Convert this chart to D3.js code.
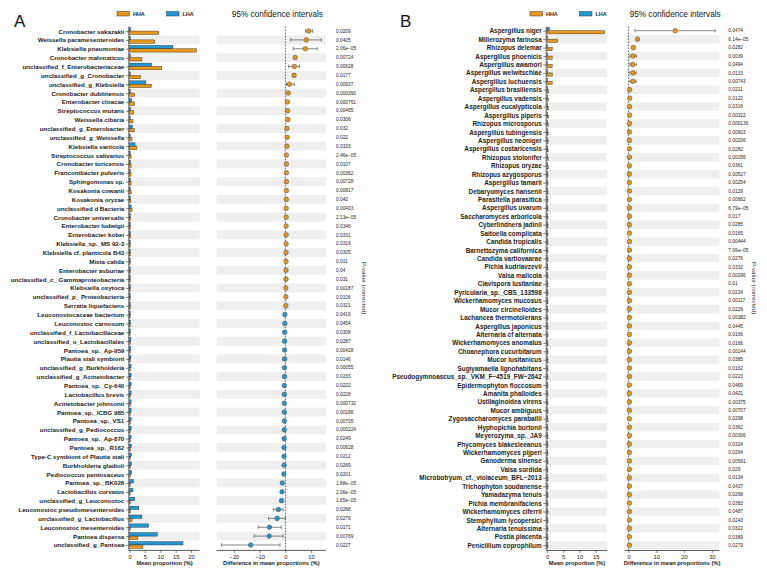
<!DOCTYPE html>
<html><head><meta charset="utf-8">
<script src="https://cdn.jsdelivr.net/npm/d3@7"></script>
<style>body{margin:0;background:#fff}svg{display:block;font-family:"Liberation Sans",Arial,sans-serif}</style>
</head><body><svg id="c" width="767" height="578"></svg>
<script>
// ---------- Panel A data ----------
const taxaA = ["Cronobacter sakazakii","Weissella paramesenteroides","Klebsiella pneumoniae","Cronobacter malonaticus","unclassified_f_Enterobacteriaceae","unclassified_g_Cronobacter","unclassified_g_Klebsiella","Cronobacter dublinensis","Enterobacter cloacae","Streptococcus mutans","Weissella cibaria","unclassified_g_Enterobacter","unclassified_g_Weissella","Klebsiella variicola","Streptococcus salivarius","Cronobacter turicensis","Franconibacter pulveris","Sphingomonas sp.","Kosakonia cowanii","Kosakonia oryzae","unclassified d Bacteria","Cronobacter universalis","Enterobacter ludwigii","Enterobacter kobei","Klebsiella_sp._MS 92-3","Klebsiella cf. planticola B43","Mixta calida","Enterobacter asburiae","unclassified_c_ Gammaproteobacteria","Klebsiella oxytoca","unclassified_p_ Proteobacteria","Serratia liquefaciens","Leuconostocaceae bacterium","Leuconostoc carnosum","unclassified_f_Lactobacillaceae","unclassified_o_Lactobacillales","Pantoea_sp._Ap-959","Plautia stali symbiont","unclassified_g_Burkholderia","unclassified_g_Acinetobacter","Pantoea_sp._Cy-640","Lactobacillus brevis","Acinetobacter johnsonii","Pantoea_sp._ICBG 985","Pantoea_sp._VS1","unclassified_g_Pediococcus","Pantoea_sp._Ap-870","Pantoea_sp._R162","Type-C symbiont of Plautia stali","Burkholderia gladioli","Pediococcus pentosaceus","Pantoea_sp._BK028","Lactobacillus curvatus","unclassified_g_Leuconostoc","Leuconostoc pseudomesenteroides","unclassified_g_Lactobacillus","Leuconostoc mesenteroides","Pantoea dispersa","unclassified_g_Pantoea"];
const hhaA = [9.5,8.2,21.8,4.0,10.5,3.6,7.1,1.6,1.6,1.3,1.1,1.5,0.8,2.4,0.5,0.5,0.5,0.5,0.5,0.4,0.8,0.3,0.3,0.3,0.3,0.25,0.2,0.2,0.2,0.2,0.2,0.2,0.05,0.05,0.05,0.05,0.05,0.05,0.05,0.05,0.05,0.05,0.05,0.05,0.05,0.05,0.05,0.05,0.05,0.05,0.05,0.1,0.1,0.2,0.3,0.8,0.1,2.7,4.3];
const lhaA = [0.3,0.1,14.1,0.1,7.2,0.1,5.3,0.2,0.7,0.3,0.1,0.9,0.1,1.8,0.1,0.1,0.1,0.05,0.05,0.05,0.5,0.05,0.05,0.05,0.05,0.05,0.05,0.05,0.05,0.05,0.05,0.05,0.2,0.3,0.3,0.4,0.4,0.4,0.5,0.5,0.5,0.5,0.5,0.5,0.5,0.5,0.5,0.6,0.6,0.6,0.7,1.3,1.1,1.7,3.0,4.0,6.2,9.0,17.4];
const diffA = [9.1,8.1,7.8,3.8,3.5,3.4,1.6,1.1,0.8,0.9,1.0,0.6,0.7,0.6,0.4,0.4,0.4,0.4,0.4,0.35,0.3,0.3,0.3,0.3,0.3,0.25,0.25,0.25,0.25,0.2,0.2,0.2,-0.2,-0.2,-0.25,-0.3,-0.3,-0.3,-0.35,-0.35,-0.4,-0.4,-0.4,-0.4,-0.4,-0.4,-0.45,-0.5,-0.5,-0.5,-0.6,-1.2,-1.3,-1.5,-2.7,-3.2,-6.2,-6.3,-13.5];
const loA = [7.8,2.1,3.1,3.3,1.3,2.9,0.4,0.8,0.5,0.6,0.7,0.3,0.4,0.3,0.2,0.2,0.2,0.2,0.2,0.15,0.1,0.1,0.1,0.1,0.1,0.1,0.1,0.1,0.1,0.05,0.05,0.05,-0.35,-0.35,-0.4,-0.45,-0.45,-0.45,-0.5,-0.5,-0.55,-0.55,-0.55,-0.55,-0.55,-0.55,-0.6,-0.65,-0.65,-0.65,-0.8,-1.5,-1.6,-1.9,-4.7,-6.6,-10.6,-12.1,-24.8];
const hiA = [10.6,14.0,12.4,4.3,5.5,3.9,3.5,1.5,1.1,1.2,1.3,0.9,1.0,0.9,0.6,0.6,0.6,0.6,0.6,0.55,0.5,0.5,0.5,0.5,0.5,0.4,0.4,0.4,0.4,0.35,0.35,0.35,-0.05,-0.05,-0.1,-0.15,-0.15,-0.15,-0.2,-0.2,-0.25,-0.25,-0.25,-0.25,-0.25,-0.25,-0.3,-0.35,-0.35,-0.35,-0.4,-0.9,-1.0,-1.1,-0.9,0.0,-1.6,-0.9,-2.1];
const pA = ["0.0209","0.0405","2.06e−05","0.00724","0.00628","0.0177","0.00937","0.000390","0.000761","0.00465","0.0306","0.032","0.022","0.0333","2.46e−05","0.0107","0.00362","0.00728","0.00817","0.042","0.00403","2.13e−05","0.0346","0.0331","0.0319","0.0305","0.011","0.04","0.031","0.00187","0.0106","0.0321","0.0419","0.0454","0.0308","0.0287","0.00428","0.0146","0.00055","0.0233","0.0222","0.0228","0.000732","0.00186","0.00705","0.000224","0.0249","0.00628","0.0212","0.0269","0.0201","1.88e−05","2.06e−05","1.65e−05","0.0268","0.0276","0.0171","0.00769","0.0227"];
const barTicksA = [0,5,10,15,20];
const diffTicksA = [-20,-10,0,10];

// ---------- Panel B data ----------
const taxaB = ["Aspergillus niger","Millerozyma farinosa","Rhizopus delemar","Aspergillus phoenicis","Aspergillus awamori","Aspergillus welwitschiae","Aspergillus luchuensis","Aspergillus brasiliensis","Aspergillus vadensis","Aspergillus eucalypticola","Aspergillus piperis","Rhizopus microsporus","Aspergillus tubingensis","Aspergillus neoniger","Aspergillus costaricensis","Rhizopus stolonifer","Rhizopus oryzae","Rhizopus azygosporus","Aspergillus tamarii","Debaryomyces hansenii","Parasitella parasitica","Aspergillus uvarum","Saccharomyces arboricola","Cyberlindnera jadinii","Saitoella complicata","Candida tropicalis","Barnettozyma californica","Candida vartiovaarae","Pichia kudriavzevii","Valsa malicola","Clavispora lusitaniae","Pyricularia_sp._CBS_133598","Wickerhamomyces mucosus","Mucor circinelloides","Lachancea thermotolerans","Aspergillus japonicus","Alternaria cf alternata","Wickerhamomyces anomalus","Choanephora cucurbitarum","Mucor lusitanicus","Sugiyamaella lignohabitans","Pseudogymnoascus_sp._VKM_F−4519_FW−2642","Epidermophyton floccosum","Amanita phalloides","Ustilaginoidea virens","Mucor ambiguus","Zygosaccharomyces parabailii","Hyphopichia burtonii","Meyerozyma_sp._JA9","Phycomyces blakesleeanus","Wickerhamomyces pijperi","Ganoderma sinense","Valsa sordida","Microbotryum_cf._violaceum_BFL−2013","Trichophyton soudanense","Yamadazyma tenuis","Pichia membranifaciens","Wickerhamomyces ciferrii","Stemphylium lycopersici","Alternaria tenuissima","Postia placenta","Penicillium coprophilum"];
const hhaB = [17.75,3.3,1.6,1.6,1.6,1.6,1.6,0.4,0.4,0.4,0.4,0.35,0.35,0.35,0.35,0.35,0.35,0.3,0.3,0.3,0.3,0.3,0.3,0.3,0.3,0.3,0.3,0.3,0.3,0.3,0.3,0.3,0.3,0.3,0.3,0.3,0.3,0.3,0.3,0.3,0.3,0.3,0.3,0.3,0.3,0.3,0.3,0.3,0.3,0.3,0.3,0.3,0.3,0.3,0.3,0.3,0.3,0.3,0.3,0.3,0.3,0.3];
const lhaB = [0.7,0.05,0.05,0.05,0.05,0.05,0.05,0.02,0.02,0.02,0.02,0.02,0.02,0.02,0.02,0.02,0.02,0.02,0.02,0.02,0.02,0.02,0.02,0.02,0.02,0.02,0.02,0.02,0.02,0.02,0.02,0.02,0.02,0.02,0.02,0.02,0.02,0.02,0.02,0.02,0.02,0.02,0.02,0.02,0.02,0.02,0.02,0.02,0.02,0.02,0.02,0.02,0.02,0.02,0.02,0.02,0.02,0.02,0.02,0.02,0.02,0.02];
const diffB = [16.8,3.2,1.7,1.6,1.5,1.6,1.5,0.4,0.4,0.35,0.35,0.35,0.3,0.3,0.3,0.3,0.3,0.3,0.3,0.3,0.3,0.3,0.3,0.3,0.3,0.3,0.3,0.3,0.3,0.3,0.3,0.3,0.3,0.3,0.3,0.3,0.3,0.3,0.3,0.3,0.3,0.3,0.3,0.3,0.3,0.3,0.3,0.3,0.3,0.3,0.3,0.3,0.3,0.3,0.3,0.3,0.3,0.3,0.3,0.3,0.3,0.3];
const loB = [2.3,2.8,1.3,0.5,0.5,0.5,0.5,0.2,0.2,0.2,0.2,0.2,0.15,0.15,0.15,0.15,0.15,0.15,0.15,0.15,0.15,0.15,0.15,0.15,0.15,0.15,0.15,0.15,0.15,0.15,0.15,0.15,0.15,0.15,0.15,0.15,0.15,0.15,0.15,0.15,0.15,0.15,0.15,0.15,0.15,0.15,0.15,0.15,0.15,0.15,0.15,0.15,0.15,0.15,0.15,0.15,0.15,0.15,0.15,0.15,0.15,0.15];
const hiB = [31.2,3.6,2.1,2.8,2.8,2.7,2.7,0.6,0.6,0.55,0.55,0.5,0.45,0.45,0.45,0.45,0.45,0.45,0.45,0.45,0.45,0.45,0.45,0.45,0.45,0.45,0.45,0.45,0.45,0.45,0.45,0.45,0.45,0.45,0.45,0.45,0.45,0.45,0.45,0.45,0.45,0.45,0.45,0.45,0.45,0.45,0.45,0.45,0.45,0.45,0.45,0.45,0.45,0.45,0.45,0.45,0.45,0.45,0.45,0.45,0.45,0.45];
const pB = ["0.0474","6.14e−05","0.0282","0.0039","0.0494","0.0133","0.00743","0.0211","0.0122","0.0316","0.00322","0.000136","0.00603","0.00206","0.0282","0.00156","0.0361","0.00527","0.00254","0.0129","0.00662","6.79e−05","0.017","0.0285","0.0165","0.00444","7.06e−05","0.0276","0.0332","0.00296","0.01","0.0224","0.00117","0.0229","0.00382","0.0445","0.0166","0.0166","0.00144","0.0385","0.0162","0.0223","0.0469","0.0421","0.00375","0.00707","0.0298","0.0362","0.00306","0.0324","0.0264","0.00591","0.029","0.0134","0.0437","0.0268","0.0383","0.0487","0.0243","0.0322","0.0389","0.0279"];
const barTicksB = [0,5,10,15];
const diffTicksB = [0,10,20,30];

const groups = ["HHA","LHA"];
const colors = {HHA:"#E7981A", LHA:"#2196D3"};

const svg = d3.select("#c");

function panel(cfg){
  const g = svg.append("g");
  const n = cfg.taxa.length;
  const y = d3.scaleBand().domain(d3.range(n)).range([cfg.yTop, cfg.yBot]).paddingInner(0).paddingOuter(0);
  const bw = y.bandwidth();
  const xb = d3.scaleLinear().domain(cfg.barDomain).range(cfg.barRange);
  const xd = d3.scaleLinear().domain(cfg.diffDomain).range(cfg.diffRange);
  const axisY = cfg.yBot + 1;

  g.append("text").attr("x", cfg.letterX).attr("y", 27).attr("font-size", 17).attr("fill","#111").text(cfg.letter);
  groups.forEach((k,i)=>{
    g.append("rect").attr("x", cfg.legX + i*49.5).attr("y", 11.5).attr("width", 12.5).attr("height", 4.5)
      .attr("fill", colors[k]).attr("stroke","#333").attr("stroke-width",0.5);
    g.append("text").attr("x", cfg.legX + i*49.5 + 16).attr("y", 15.8).attr("font-size", 5.4).attr("font-weight","bold").attr("fill","#222").text(k);
  });
  g.append("text").attr("x", (cfg.diffRange[0]+cfg.diffRange[1])/2 + cfg.titleShift).attr("y", 17).attr("text-anchor","middle")
    .attr("font-size", 8.2).attr("fill","#111").text("95% confidence intervals");

  const stripeIdx = d3.range(n).filter(i=>i%2===1);
  g.selectAll(".s1").data(stripeIdx).join("rect").attr("x", xb.range()[0]).attr("width", xb.range()[1]-xb.range()[0])
    .attr("y", i=>y(i)).attr("height", bw).attr("fill","#efefef");
  g.selectAll(".s2").data(stripeIdx).join("rect").attr("x", xd.range()[0]).attr("width", xd.range()[1]-xd.range()[0])
    .attr("y", i=>y(i)).attr("height", bw).attr("fill","#efefef");

  const bh = bw*0.38;
  const data = d3.range(n).map(i=>({i, HHA:cfg.hha[i], LHA:cfg.lha[i]}));
  g.selectAll(".bl").data(data).join("rect").attr("x", xb(0)).attr("y", d=>y(d.i)+bw/2-bh)
    .attr("width", d=>Math.max(0.6, xb(d.LHA)-xb(0))).attr("height", bh).attr("fill", colors.LHA).attr("stroke","#222").attr("stroke-width",0.4);
  g.selectAll(".bh").data(data).join("rect").attr("x", xb(0)).attr("y", d=>y(d.i)+bw/2)
    .attr("width", d=>Math.max(0.6, xb(d.HHA)-xb(0))).attr("height", bh).attr("fill", colors.HHA).attr("stroke","#222").attr("stroke-width",0.4);

  const ya = d3.axisLeft(d3.scalePoint().domain(cfg.taxa).range([y(0)+bw/2, y(n-1)+bw/2])).tickSize(3).tickPadding(1.5);
  const gy = g.append("g").attr("transform",`translate(${xb(0)-0.8},0)`).call(ya);
  gy.select(".domain").attr("d", `M-0,${cfg.yTop}V${axisY}`).attr("stroke","#333").attr("stroke-width",0.8);
  gy.selectAll(".tick line").attr("stroke","#333").attr("stroke-width",0.6);
  gy.selectAll("text").attr("font-size", cfg.labelSize).attr("font-weight","bold").attr("fill","#222").attr("font-family",'"Liberation Sans",Arial,sans-serif');

  const xa = d3.axisBottom(xb).tickValues(cfg.barTicks).tickSize(2.5).tickPadding(1.5);
  const gx = g.append("g").attr("transform",`translate(0,${axisY})`).call(xa);
  gx.select(".domain").attr("d", `M${xb.range()[0]-0.8},0H${xb.range()[1]}`).attr("stroke","#333").attr("stroke-width",0.8);
  gx.selectAll(".tick line").attr("stroke","#333").attr("stroke-width",0.6);
  gx.selectAll("text").attr("font-size",5.8).attr("fill","#222").attr("font-family",'"Liberation Sans",Arial,sans-serif');

  const xda = d3.axisBottom(xd).tickValues(cfg.diffTicks).tickSize(2.5).tickPadding(1.5).tickFormat(d=>d<0?"−"+Math.abs(d):d);
  const gd = g.append("g").attr("transform",`translate(0,${axisY})`).call(xda);
  gd.select(".domain").attr("d", `M${xd.range()[0]},0H${xd.range()[1]}`).attr("stroke","#333").attr("stroke-width",0.8);
  gd.selectAll(".tick line").attr("stroke","#333").attr("stroke-width",0.6);
  gd.selectAll("text").attr("font-size",5.8).attr("fill","#222").attr("font-family",'"Liberation Sans",Arial,sans-serif');

  g.append("text").attr("x",(xb.range()[0]+xb.range()[1])/2).attr("y", axisY+14.5).attr("text-anchor","middle")
    .attr("font-size",5.8).attr("font-weight","bold").attr("fill","#222").text("Mean proportion (%)");
  g.append("text").attr("x",(xd.range()[0]+xd.range()[1])/2).attr("y", axisY+14.5).attr("text-anchor","middle")
    .attr("font-size",5.8).attr("font-weight","bold").attr("fill","#222").text("Difference in mean proportions (%)");

  g.append("line").attr("x1", xd(0)).attr("x2", xd(0)).attr("y1", cfg.yTop).attr("y2", axisY)
    .attr("stroke","#333").attr("stroke-width",0.8).attr("stroke-dasharray","1.6,1.4");

  const ci = d3.range(n).map(i=>({i, d:cfg.diff[i], lo:cfg.lo[i], hi:cfg.hi[i]}));
  const cg = g.append("g").attr("stroke","#555").attr("stroke-width",0.7);
  cg.selectAll(".ci").data(ci).join("line").attr("x1",d=>xd(d.lo)).attr("x2",d=>xd(d.hi)).attr("y1",d=>y(d.i)+bw/2).attr("y2",d=>y(d.i)+bw/2);
  cg.selectAll(".c1").data(ci).join("line").attr("x1",d=>xd(d.lo)).attr("x2",d=>xd(d.lo)).attr("y1",d=>y(d.i)+bw/2-1.8).attr("y2",d=>y(d.i)+bw/2+1.8);
  cg.selectAll(".c2").data(ci).join("line").attr("x1",d=>xd(d.hi)).attr("x2",d=>xd(d.hi)).attr("y1",d=>y(d.i)+bw/2-1.8).attr("y2",d=>y(d.i)+bw/2+1.8);
  g.selectAll(".pt").data(ci).join("circle").attr("cx",d=>xd(d.d)).attr("cy",d=>y(d.i)+bw/2).attr("r",2.3)
    .attr("fill",d=>d.d>=0?colors.HHA:colors.LHA).attr("stroke","#444").attr("stroke-width",0.5);

  g.selectAll(".pv").data(cfg.p).join("text").attr("x", cfg.pX).attr("y",(d,i)=>y(i)+bw/2+1.7)
    .attr("font-size",4.8).attr("fill","#222").text(d=>d);
  g.append("text").attr("transform",`translate(${cfg.pLabX},${cfg.pLabY}) rotate(90)`).attr("text-anchor","middle")
    .attr("font-size",6.2).attr("fill","#222").text("P-value (corrected)");
}

panel({letter:"A", letterX:14, legX:117, titleShift:6, taxa:taxaA, hha:hhaA, lha:lhaA, diff:diffA, lo:loA, hi:hiA, p:pA,
  yTop:26.6, yBot:549.4, barDomain:[0,22.8], barRange:[129.6,199.6], barTicks:barTicksA,
  diffDomain:[-26.7,15.8], diffRange:[216.7,326], diffTicks:diffTicksA, pX:336, pLabX:362, pLabY:288, labelSize:6.2});
panel({letter:"B", letterX:400, legX:530, titleShift:3, taxa:taxaB, hha:hhaB, lha:lhaB, diff:diffB, lo:loB, hi:hiB, p:pB,
  yTop:26.5, yBot:549.5, barDomain:[0,18.5], barRange:[547,607], barTicks:barTicksB,
  diffDomain:[-1.3,32.7], diffRange:[625,719.3], diffTicks:diffTicksB, pX:728.3, pLabX:752, pLabY:288, labelSize:6.4});
</script></body></html>
